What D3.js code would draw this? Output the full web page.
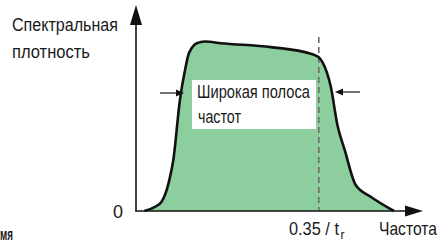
<!DOCTYPE html>
<html>
<head>
<meta charset="utf-8">
<script src="https://cdn.jsdelivr.net/npm/d3@7"></script>
<style>
  body { margin: 0; background: #fff; }
  svg text { font-family: "Liberation Sans", Arial, sans-serif; fill: #1a1a1a; }
</style>
</head>
<body>
<svg class="chart" width="442" height="250"></svg>
<script>
// frequency in units of 0.35/tr, density normalised to the plateau
const freq = [0.045, 0.104, 0.140, 0.158, 0.186, 0.204, 0.240, 0.268, 0.286, 0.304, 0.332, 0.377,
  0.464, 0.738, 0.956, 0.998, 1.020, 1.066, 1.102, 1.142, 1.202, 1.284, 1.411]
const density = [0, 0.025, 0.055, 0.094, 0.20, 0.30, 0.653, 0.83, 0.92, 0.96, 0.99, 1.0,
  0.99, 0.967, 0.928, 0.908, 0.878, 0.731, 0.506, 0.359, 0.153, 0.084, 0]
const cutoff = 1.0
const yLabel = ['Спектральная', 'плотность']
const xLabel = 'Частота'
const bandLabel = ['Широкая полоса', 'частот']

const svg = d3.select('svg.chart')

const x = d3.scaleLinear().domain([0, 1.57]).range([136, 423])
const y = d3.scaleLinear().domain([0, 1]).range([211, 41.5])

const pts = freq.map((f, i) => [f, density[i]])

// filled spectrum
svg.append('path')
  .datum(pts)
  .attr('fill', '#8dce9e')
  .attr('d', d3.area().x(d => x(d[0])).y0(y(0)).y1(d => y(d[1])).curve(d3.curveMonotoneX))

// white label box
svg.append('rect')
  .attr('x', 192).attr('y', 80)
  .attr('width', 124).attr('height', 49)
  .attr('fill', '#fff')

// cutoff dashed line
svg.append('line')
  .attr('x1', x(cutoff)).attr('x2', x(cutoff))
  .attr('y1', 37).attr('y2', y(0))
  .attr('stroke', '#6d6d6d')
  .attr('stroke-width', 1.6)
  .attr('stroke-dasharray', '6,4')

// outline
svg.append('path')
  .datum(pts)
  .attr('fill', 'none')
  .attr('stroke', '#111')
  .attr('stroke-width', 2.6)
  .attr('stroke-linejoin', 'round')
  .attr('d', d3.line().x(d => x(d[0])).y(d => y(d[1])).curve(d3.curveMonotoneX))

// axes
svg.append('line')
  .attr('x1', x(0)).attr('x2', x(0)).attr('y1', y(0)).attr('y2', 22)
  .attr('stroke', '#111').attr('stroke-width', 1.6)
svg.append('line')
  .attr('x1', x(0) - 0.8).attr('x2', 408).attr('y1', y(0)).attr('y2', y(0))
  .attr('stroke', '#111').attr('stroke-width', 1.6)
svg.append('path')
  .attr('d', `M${x(0)},5 L${x(0) - 6},25 L${x(0) + 6},25 Z`)
  .attr('fill', '#111')
svg.append('path')
  .attr('d', `M423,${y(0)} L405,${y(0) - 5.5} L405,${y(0) + 5.5} Z`)
  .attr('fill', '#111')

// band arrows
const arrow = (x1, x2, yy) => {
  const dir = Math.sign(x2 - x1)
  svg.append('line')
    .attr('x1', x1).attr('x2', x2 - dir * 5).attr('y1', yy).attr('y2', yy)
    .attr('stroke', '#111').attr('stroke-width', 1.2)
  svg.append('path')
    .attr('d', `M${x2},${yy} L${x2 - dir * 8},${yy - 3.5} L${x2 - dir * 8},${yy + 3.5} Z`)
    .attr('fill', '#111')
}
arrow(160, 184, 93)
arrow(360, 335, 92)

// texts, squeezed horizontally to the condensed face of the original
const label = (str, tx, ty, w, size = 18.5) => {
  const t = svg.append('text').attr('font-size', size).text(str)
  const sx = w / t.node().getComputedTextLength()
  return t.attr('transform', `translate(${tx},${ty}) scale(${sx},1)`)
}

label(yLabel[0], 12, 31, 106)
label(yLabel[1], 12, 58, 78)
label(bandLabel[0], 197, 98, 113)
label(bandLabel[1], 198, 123, 43)
label('0', 113, 218, 10)
label(xLabel, 379, 235, 58)
label('мя', 0, 240, 12, 16).attr('font-weight', 'bold')

// tick label 0.35 / t_r at the cutoff
label('0.35 / t', 289, 235, 50)
label('r', 340.5, 239, 4, 12)
</script>
</body>
</html>
